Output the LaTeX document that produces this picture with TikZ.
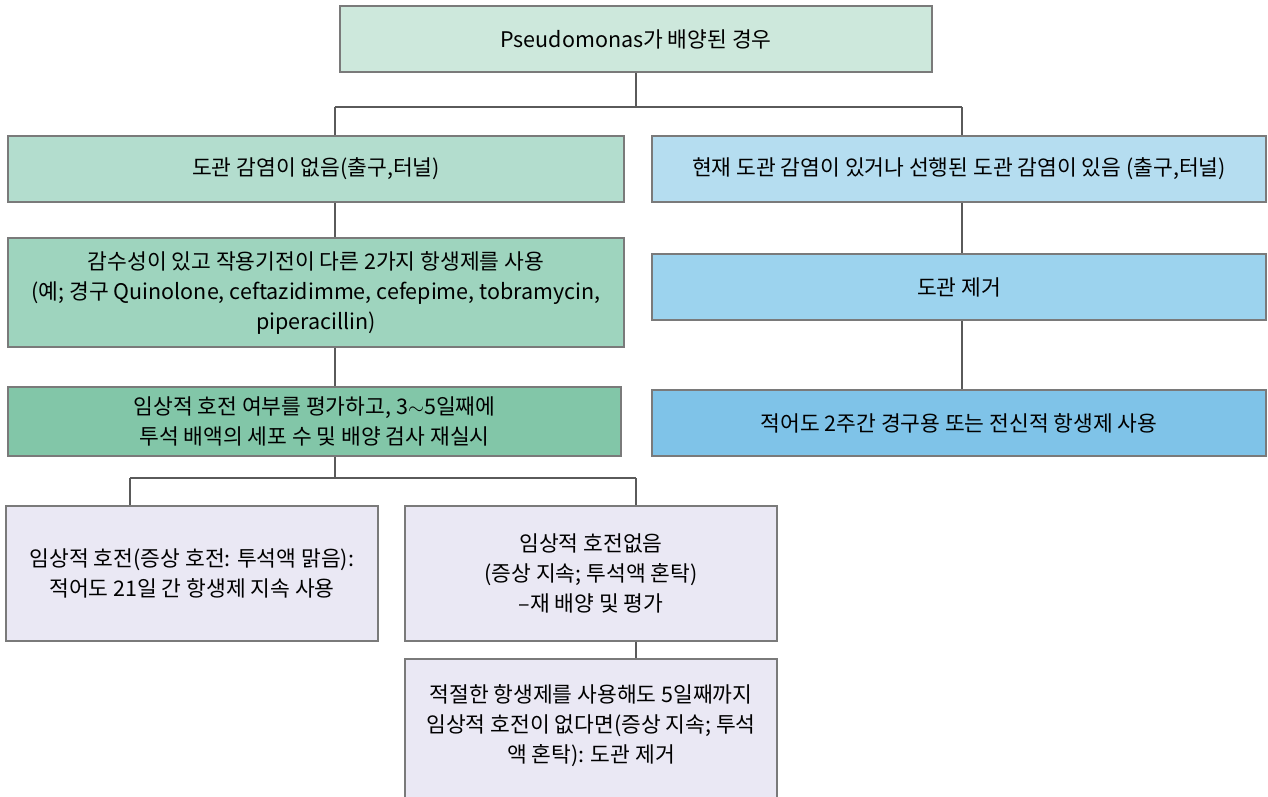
\documentclass[tikz,border=0pt]{standalone}
\usepackage{fontspec}
\setmainfont{Noto Sans CJK KR}
\usetikzlibrary{calc}
\definecolor{cTop}{HTML}{CDE8DC}
\definecolor{cL1}{HTML}{B3DDCE}
\definecolor{cL2}{HTML}{9ED4BE}
\definecolor{cL3}{HTML}{82C6A8}
\definecolor{cR1}{HTML}{B5DDF0}
\definecolor{cR2}{HTML}{9CD3EE}
\definecolor{cR3}{HTML}{7FC3E8}
\definecolor{cB}{HTML}{EAE8F4}
\definecolor{cEdge}{HTML}{7A7A7A}
\definecolor{cLine}{HTML}{5A5A5A}
\tikzset{
  box/.style={draw=cEdge, line width=1.5pt, align=center, inner sep=0pt,
    font=\fontsize{21.5}{30}\selectfont, text=black},
  btext/.style={align=center, inner sep=0pt, font=\fontsize{21.5}{30}\selectfont, text=black},
  link/.style={draw=cLine, line width=1.2pt},
}
\begin{document}
\begin{tikzpicture}[x=1pt,y=-1pt]
\useasboundingbox (0,0) rectangle (1268,796);
\clip (0,0) rectangle (1268,796);
\node[box, fill=cTop, minimum width=592pt, minimum height=66pt] (top) at (636,39) {Pseudomonas가 배양된 경우};
\node[box, fill=cL1, minimum width=616pt, minimum height=66pt] (L1) at (316,169) {도관 감염이 없음(출구,터널)};
\node[box, fill=cL2, minimum width=616pt, minimum height=109pt] (L2) at (316,292.5) {감수성이 있고 작용기전이 다른 2가지 항생제를 사용\\(예; 경구 Quinolone, ceftazidimme, cefepime, tobramycin,\\piperacillin)};
\node[box, fill=cL3, minimum width=613pt, minimum height=69pt] (L3) at (314.5,421.5) {임상적 호전 여부를 평가하고, 3$\sim$5일째에\\투석 배액의 세포 수 및 배양 검사 재실시};
\node[box, fill=cR1, minimum width=614pt, minimum height=66pt] (R1) at (959,169) {현재 도관 감염이 있거나 선행된 도관 감염이 있음 (출구,터널)};
\node[box, fill=cR2, minimum width=614pt, minimum height=66pt] (R2) at (959,287) {도관 제거};
\node[box, fill=cR3, minimum width=614pt, minimum height=66pt] (R3) at (959,423) {적어도 2주간 경구용 또는 전신적 항생제 사용};
\node[box, fill=cB, minimum width=372pt, minimum height=135pt] (B1) at (192,573.5) {임상적 호전(증상 호전: 투석액 맑음):\\적어도 21일 간 항생제 지속 사용};
\node[box, fill=cB, minimum width=372pt, minimum height=135pt] (B2) at (591,573.5) {임상적 호전없음\\(증상 지속; 투석액 혼탁)\\--재 배양 및 평가};
\node[box, fill=cB, minimum width=372pt, minimum height=145pt] (B3) at (591,731.5) {};
\node[btext] (B3t) at (591,726) {적절한 항생제를 사용해도 5일째까지\\임상적 호전이 없다면(증상 지속; 투석\\액 혼탁): 도관 제거};
\coordinate (ct) at (636,107);
\coordinate (cl) at (335,107);
\coordinate (cr) at (962,107);
\coordinate (cb) at (335,478);
\coordinate (b1) at (130,478);
\coordinate (b2) at (636,478);
\draw[link] (top.south) -- (ct);
\draw[link] (cl) -- (cr);
\draw[link] (cl) -- (cl |- L1.north);
\draw[link] (cr) -- (cr |- R1.north);
\draw[link] (cl |- L1.south) -- (cl |- L2.north);
\draw[link] (cl |- L2.south) -- (cl |- L3.north);
\draw[link] (cr |- R1.south) -- (cr |- R2.north);
\draw[link] (cr |- R2.south) -- (cr |- R3.north);
\draw[link] (cl |- L3.south) -- (cb);
\draw[link] (b1) -- (b2);
\draw[link] (b1) -- (b1 |- B1.north);
\draw[link] (b2) -- (b2 |- B2.north);
\draw[link] (b2 |- B2.south) -- (b2 |- B3.north);
\end{tikzpicture}
\end{document}
